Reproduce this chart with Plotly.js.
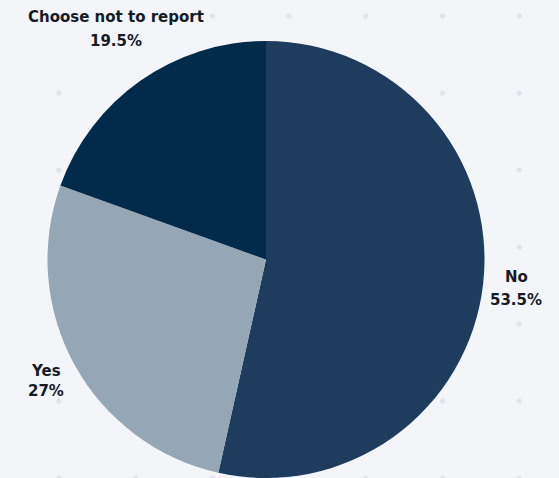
<!DOCTYPE html>
<html>
<head>
<meta charset="utf-8">
<script src="https://cdn.plot.ly/plotly-3.0.1.min.js"></script>
<style>html,body{margin:0;padding:0;background:#f3f5f9;}#chart{width:559px;height:478px;}</style>
</head>
<body>
<div id="chart"></div>
<script>
var categories = ["No", "Yes", "Choose not to report"];
var values = [53.5, 27, 19.5];
var colors = ["#1e3c5e", "#95a7b5", "#022a4a"];

// label placement (pixel centres of name line and value line), kept apart from data
var labelX = [516, 46, 116];
var nameY = [277, 371, 17];
var valueY = [300, 391, 41];

var W = 559, H = 478;
var shapes = [];
for (var i = 0; i < 7; i++) {
  for (var j = 0; j < 7; j++) {
    var cx = 59 + i * 76.7, cy = 16 + j * 77;
    shapes.push({type: "circle", xref: "paper", yref: "paper", layer: "below",
      x0: (cx - 2.6) / W, x1: (cx + 2.6) / W, y0: 1 - (cy + 2.6) / H, y1: 1 - (cy - 2.6) / H,
      fillcolor: "#e2e5eb", line: {width: 0}});
  }
}

var font = {family: "DejaVu Sans, sans-serif", size: 15, color: "#171b27", weight: "bold"};
var annotations = [];
for (var k = 0; k < categories.length; k++) {
  annotations.push({xref: "paper", yref: "paper", x: labelX[k] / W, y: 1 - nameY[k] / H,
    xanchor: "center", yanchor: "middle", showarrow: false,
    text: "<b>" + categories[k] + "</b>", font: font});
  annotations.push({xref: "paper", yref: "paper", x: labelX[k] / W, y: 1 - valueY[k] / H,
    xanchor: "center", yanchor: "middle", showarrow: false,
    text: "<b>" + values[k] + "%</b>", font: font});
}

var trace = {
  type: "pie",
  labels: categories,
  values: values,
  sort: false,
  direction: "clockwise",
  rotation: 0,
  marker: {colors: colors, line: {width: 0}},
  textinfo: "none",
  automargin: false,
  showlegend: false,
  hoverinfo: "none",
  domain: {x: [(266 - 219) / W, (266 + 219) / W], y: [0, (218 + 219) / H]}
};

Plotly.newPlot("chart", [trace], {
  width: W, height: H,
  margin: {l: 0, r: 0, t: 0, b: 0},
  paper_bgcolor: "#f3f5f9",
  plot_bgcolor: "#f3f5f9",
  showlegend: false,
  shapes: shapes,
  annotations: annotations
}, {displayModeBar: false, staticPlot: true});
</script>
</body>
</html>
